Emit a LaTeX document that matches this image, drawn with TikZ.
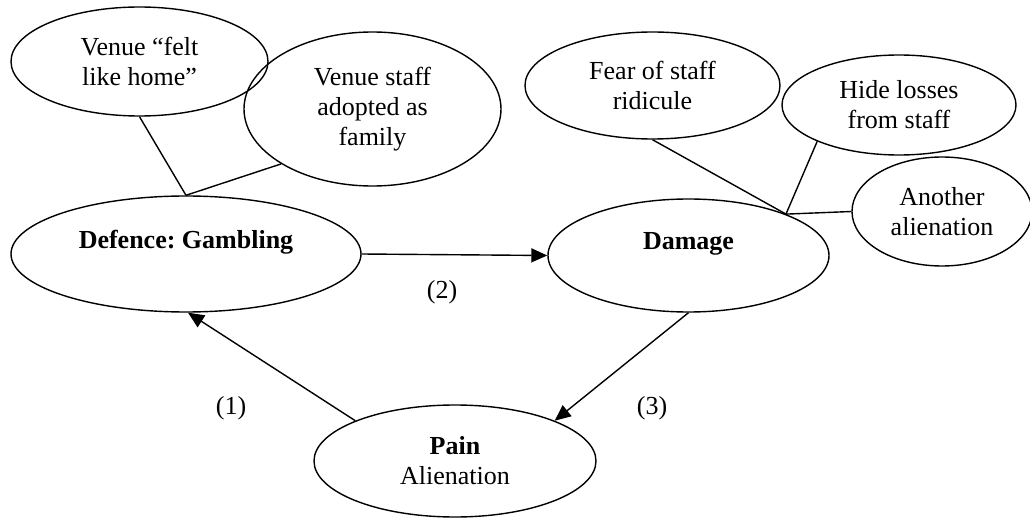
\documentclass[tikz,border=0pt]{standalone}
\usepackage{fontspec}
\setmainfont{Liberation Serif}
\usepackage{tikz}
\usetikzlibrary{shapes.geometric,arrows.meta}

\begin{document}
\frenchspacing
\begin{tikzpicture}[x=0.5pt,y=-0.5pt]
    % Define bubble shapes
    \tikzstyle{bubble}=[draw, ellipse, line width=0.7pt, inner sep=0pt, align=center, font=\fontsize{13}{15}\selectfont]
    \tikzstyle{link}=[line width=0.7pt]
    \tikzstyle{flow}=[line width=0.7pt, -{Triangle[length=8pt,width=7pt]}]
    \tikzstyle{tag}=[font=\fontsize{13}{15}\selectfont]

    \useasboundingbox (0,0) rectangle (1030,519);

    % Place cycle stages
    \node[bubble, minimum width=175pt, minimum height=58pt] (defence) at (186,254) {\textbf{Defence: Gambling}\\\phantom{X}};
    \node[bubble, minimum width=140.5pt, minimum height=56.5pt] (damage) at (688.5,255.5) {\textbf{Damage}\\\phantom{X}};
    \node[bubble, minimum width=141pt, minimum height=56pt] (pain) at (455,461) {\textbf{Pain}\\Alienation};

    % Place defence details
    \node[bubble, minimum width=128.5pt, minimum height=54.5pt] (home) at (139.5,61.5) {Venue ``felt\\like home''};
    \node[bubble, minimum width=128.5pt, minimum height=77pt] (family) at (372.5,109) {Venue staff\\adopted as\\family};

    % Place damage details
    \node[bubble, minimum width=127.5pt, minimum height=53.5pt] (ridicule) at (652.5,85.5) {Fear of staff\\ridicule};
    \node[bubble, minimum width=117pt, minimum height=50pt] (hide) at (899,105) {Hide losses\\from staff};
    \node[bubble, minimum width=90pt, minimum height=54.5pt] (another) at (942,211.5) {Another\\alienation};

    % Connect details
    \draw[link] (defence.north) -- (home.south);
    \draw[link] (defence.north) -- (family.211);
    \draw[link] (damage.23) -- (ridicule.south);
    \draw[link] (damage.23) -- (hide.204);
    \draw[link] (damage.23) -- (another.west);

    % Connect cycle
    \draw[flow] (pain.158) -- (defence.272);
    \draw[flow] (defence.east) -- (damage.west);
    \draw[flow] (damage.south) -- (pain.22);

    % Step labels
    \node[tag] (l1) at (231,408) {(1)};
    \node[tag] (l2) at (442,292) {(2)};
    \node[tag] (l3) at (652,408) {(3)};
\end{tikzpicture}
\end{document}
